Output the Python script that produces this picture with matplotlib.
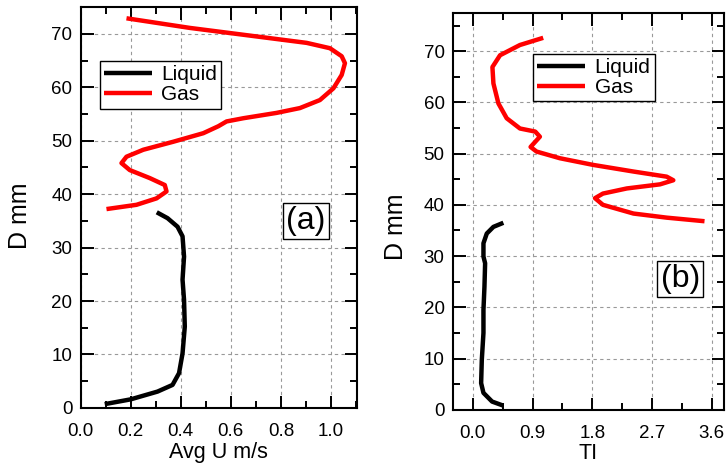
import matplotlib
matplotlib.use("Agg")
import matplotlib.pyplot as plt
from matplotlib.ticker import MultipleLocator

plt.rcParams['font.family'] = ['Liberation Sans', 'DejaVu Sans']

# panel (a): average velocity
liq_u = [0.096, 0.20, 0.307, 0.367, 0.393, 0.407, 0.416, 0.413, 0.407, 0.413,
         0.407, 0.387, 0.347, 0.304]
liq_u_d = [0.7, 1.6, 3.05, 4.3, 6.5, 10.2, 15.2, 20.2, 24.0, 28.3,
           32.1, 33.9, 35.5, 36.6]
gas_u = [0.103, 0.223, 0.303, 0.343, 0.336, 0.276, 0.196, 0.163, 0.183, 0.25,
         0.37, 0.49, 0.55, 0.583, 0.65, 0.783, 0.876, 0.956, 1.01, 1.043,
         1.056, 1.043, 0.996, 0.903, 0.703, 0.436, 0.183]
gas_u_d = [37.2, 38.0, 39.2, 40.5, 41.7, 43.0, 44.5, 45.8, 47.0, 48.3,
           49.8, 51.4, 52.7, 53.6, 54.2, 55.2, 56.1, 57.6, 59.8, 62.3,
           64.5, 65.8, 67.3, 68.3, 69.5, 71.1, 72.9]

# panel (b): turbulence intensity
liq_ti = [0.46, 0.29, 0.16, 0.125, 0.135, 0.16, 0.16, 0.175, 0.185, 0.16,
          0.16, 0.21, 0.31, 0.46]
liq_ti_d = [0.8, 1.6, 3.3, 5.2, 9.7, 15.0, 19.5, 24.0, 28.6, 29.9,
            32.5, 34.4, 35.7, 36.5]
gas_ti = [3.49, 2.92, 2.42, 1.96, 1.84, 1.96, 2.32, 2.82, 3.02, 2.92, 2.42,
          1.81, 1.31, 0.96, 0.87, 0.94, 1.01, 0.94, 0.71, 0.51, 0.385, 0.31,
          0.295, 0.41, 0.71, 1.06]
gas_ti_d = [36.8, 37.5, 38.3, 40.0, 41.3, 42.2, 43.2, 44.0, 44.8, 45.5, 46.5,
            47.8, 49.1, 50.4, 51.3, 52.3, 53.3, 54.3, 54.9, 56.9, 59.8, 63.7,
            66.9, 69.2, 71.2, 72.6]

fig = plt.figure(figsize=(7.27, 4.71), dpi=100)
ax1 = fig.add_axes([0.111, 0.134, 0.380, 0.851])
ax2 = fig.add_axes([0.623, 0.130, 0.373, 0.843])


def style(ax, xmaj, xmin):
    ax.xaxis.set_major_locator(MultipleLocator(xmaj))
    ax.xaxis.set_minor_locator(MultipleLocator(xmin))
    ax.yaxis.set_major_locator(MultipleLocator(10))
    ax.yaxis.set_minor_locator(MultipleLocator(5))
    ax.tick_params(which='both', direction='in', top=True, right=True,
                   width=1.4, labelsize=13.5)
    ax.tick_params(which='major', length=9)
    ax.tick_params(which='minor', length=5)
    ax.tick_params(axis='x', which='major', pad=11)
    ax.tick_params(axis='y', which='major', pad=6)
    ax.grid(True, which='major', linestyle=(0, (3, 3)), color='#999999', lw=0.8)
    for s in ax.spines.values():
        s.set_linewidth(1.5)
    ax.set_ylabel('D mm', fontsize=18)


def add_legend(ax, anchor):
    leg = ax.legend(loc='upper left', bbox_to_anchor=anchor, fontsize=15,
                    fancybox=False, edgecolor='black', framealpha=1,
                    handlelength=2.3, borderpad=0.2, labelspacing=0.05,
                    borderaxespad=0, handletextpad=0.45)
    leg.get_frame().set_linewidth(1.0)


lw = 3.2
ax1.plot(liq_u, liq_u_d, color='black', lw=lw, label='Liquid',
         solid_capstyle='butt', solid_joinstyle='round')
ax1.plot(gas_u, gas_u_d, color='red', lw=lw, label='Gas',
         solid_capstyle='butt', solid_joinstyle='round')
ax1.set_xlim(0, 1.104)
ax1.set_ylim(0, 75)
style(ax1, 0.2, 0.1)
ax1.set_xticks([0.0, 0.2, 0.4, 0.6, 0.8, 1.0])
ax1.set_xticklabels(['0.0', '0.2', '0.4', '0.6', '0.8', '1.0'])
ax1.set_xlabel('Avg U m/s', fontsize=15.5, labelpad=1)
ax1.yaxis.set_label_coords(-0.175, 0.48)
add_legend(ax1, (0.069, 0.865))
ax1.text(0.815, 0.466, '(a)', transform=ax1.transAxes, fontsize=23,
         ha='center', va='center',
         bbox=dict(boxstyle='square,pad=0.1', fc='white', ec='black', lw=1))

ax2.plot(liq_ti, liq_ti_d, color='black', lw=lw, label='Liquid',
         solid_capstyle='butt', solid_joinstyle='round')
ax2.plot(gas_ti, gas_ti_d, color='red', lw=lw, label='Gas',
         solid_capstyle='butt', solid_joinstyle='round')
ax2.set_xlim(-0.3, 3.785)
ax2.set_ylim(0, 77.5)
style(ax2, 0.9, 0.45)
ax2.set_xticks([0.0, 0.9, 1.8, 2.7, 3.6])
ax2.set_xticklabels(['0.0', '0.9', '1.8', '2.7', '3.6'])
ax2.set_xlabel('TI', fontsize=15.5, labelpad=1)
ax2.yaxis.set_label_coords(-0.165, 0.46)
add_legend(ax2, (0.296, 0.896))
ax2.text(0.838, 0.33, '(b)', transform=ax2.transAxes, fontsize=23,
         ha='center', va='center',
         bbox=dict(boxstyle='square,pad=0.1', fc='white', ec='black', lw=1))

fig.savefig('out.png', dpi=100)
